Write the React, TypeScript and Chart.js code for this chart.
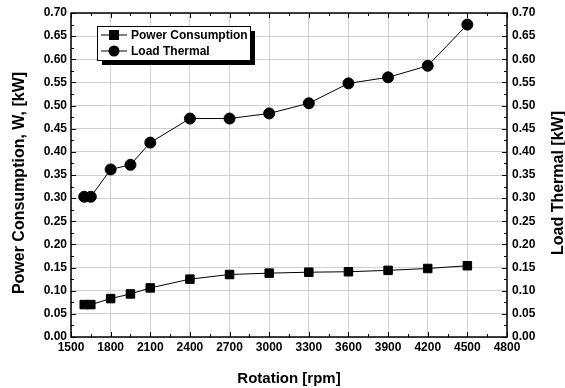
import React, { useEffect, useRef } from "react";
import { Chart, registerables } from "chart.js";

Chart.register(...registerables);

const rotation = [1600, 1650, 1800, 1950, 2100, 2400, 2700, 3000, 3300, 3600, 3900, 4200, 4500];
const powerConsumption = [0.07, 0.07, 0.083, 0.093, 0.106, 0.125, 0.135, 0.138, 0.14, 0.141, 0.144, 0.148, 0.154];
const loadThermal = [0.303, 0.303, 0.362, 0.372, 0.42, 0.472, 0.472, 0.483, 0.505, 0.548, 0.561, 0.586, 0.675];
const xTicks = { min: 1500, max: 4800, step: 300 };
const yTicks = { min: 0, max: 0.7, step: 0.05 };
const leftTitle = "Power Consumption, W, [kW]";
const rightTitle = "Load Thermal [kW]";

const FONT = "'Liberation Sans', Arial, sans-serif";

const framePlugin = {
  id: "frame",
  afterDraw(chart: any) {
    const { ctx, chartArea: a, scales } = chart;
    const xs = scales.x;
    const ys = scales.y;
    ctx.save();
    ctx.strokeStyle = "#000";
    ctx.lineWidth = 1;
    const tick = (x1: number, y1: number, x2: number, y2: number) => {
      ctx.beginPath();
      ctx.moveTo(x1, y1);
      ctx.lineTo(x2, y2);
      ctx.stroke();
    };
    const nx = Math.round((xTicks.max - xTicks.min) / (xTicks.step / 2));
    for (let i = 0; i <= nx; i++) {
      const v = xTicks.min + (i * xTicks.step) / 2;
      const len = i % 2 === 0 ? 5 : 3;
      const px = Math.round(xs.getPixelForValue(v)) + 0.5;
      tick(px, a.bottom, px, a.bottom - len);
      tick(px, a.top, px, a.top + len);
    }
    const ny = Math.round((yTicks.max - yTicks.min) / (yTicks.step / 2));
    for (let i = 0; i <= ny; i++) {
      const v = yTicks.min + (i * yTicks.step) / 2;
      const len = i % 2 === 0 ? 5 : 3;
      const py = Math.round(ys.getPixelForValue(v)) + 0.5;
      tick(a.left, py, a.left + len, py);
      tick(a.right, py, a.right - len, py);
    }
    ctx.lineWidth = 1.5;
    ctx.strokeRect(a.left, a.top, a.right - a.left, a.bottom - a.top);

    // vertical axis titles (both read bottom-to-top)
    ctx.fillStyle = "#000";
    ctx.font = `bold 16px ${FONT}`;
    ctx.textAlign = "center";
    ctx.textBaseline = "middle";
    const cy = (a.top + a.bottom) / 2 + 8;
    const drawV = (text: string, x: number) => {
      ctx.save();
      ctx.translate(x, cy);
      ctx.rotate(-Math.PI / 2);
      ctx.fillText(text, 0, 0);
      ctx.restore();
    };
    drawV(leftTitle, 20);
    drawV(rightTitle, chart.width - 6);
    ctx.restore();
  },
};

const legendPlugin = {
  id: "customLegend",
  afterDraw(chart: any) {
    const { ctx, chartArea: a } = chart;
    const bx = a.left + 26;
    const by = a.top + 13;
    const bw = 153;
    const bh = 34;
    ctx.save();
    ctx.fillStyle = "#000";
    ctx.fillRect(bx + 5, by + 5, bw, bh);
    ctx.fillStyle = "#fff";
    ctx.fillRect(bx, by, bw, bh);
    ctx.strokeStyle = "#000";
    ctx.lineWidth = 1;
    ctx.strokeRect(bx + 0.5, by + 0.5, bw, bh);
    ctx.font = `bold 12px ${FONT}`;
    ctx.textBaseline = "middle";
    chart.data.datasets.forEach((ds: any, i: number) => {
      const cy = by + 9 + i * 16;
      ctx.beginPath();
      ctx.moveTo(bx + 4, cy);
      ctx.lineTo(bx + 30, cy);
      ctx.lineWidth = 1;
      ctx.strokeStyle = "#000";
      ctx.stroke();
      ctx.fillStyle = "#000";
      const cx = bx + 17;
      if (ds.pointStyle === "rect") {
        ctx.fillRect(cx - 5, cy - 5, 10, 10);
      } else {
        ctx.beginPath();
        ctx.arc(cx, cy, 5.5, 0, Math.PI * 2);
        ctx.fill();
      }
      ctx.fillText(ds.label, bx + 34, cy + 0.5);
    });
    ctx.restore();
  },
};

export default function App() {
  const ref = useRef<HTMLCanvasElement>(null);
  useEffect(() => {
    document.body.style.margin = "0";
    const tickFont = { family: FONT, size: 12, weight: "bold" as const };
    const titleFont = { family: FONT, size: 15, weight: "bold" as const };
    const chart = new Chart(ref.current!, {
      type: "line",
      data: {
        datasets: [
          {
            label: "Power Consumption",
            data: rotation.map((x, i) => ({ x, y: powerConsumption[i] })),
            borderColor: "#000",
            backgroundColor: "#000",
            borderWidth: 1,
            pointStyle: "rect",
            pointRadius: 6,
            pointHoverRadius: 6,
            yAxisID: "y",
          },
          {
            label: "Load Thermal",
            data: rotation.map((x, i) => ({ x, y: loadThermal[i] })),
            borderColor: "#000",
            backgroundColor: "#000",
            borderWidth: 1,
            pointStyle: "circle",
            pointRadius: 5.5,
            pointHoverRadius: 5.5,
            yAxisID: "y2",
          },
        ],
      },
      options: {
        animation: false,
        responsive: false,
        maintainAspectRatio: false,
        layout: { padding: { top: 13, left: 0, right: 0, bottom: 0 } },
        plugins: { legend: { display: false }, tooltip: { enabled: false } },
        scales: {
          x: {
            type: "linear",
            position: "bottom",
            min: xTicks.min,
            max: xTicks.max,
            ticks: { stepSize: xTicks.step, font: tickFont, color: "#000", padding: 3, maxRotation: 0, callback: (v: any) => String(v) },
            grid: { color: "#d0d0d0", drawTicks: false, lineWidth: 1 },
            border: { display: false },
            title: { display: true, text: "Rotation [rpm]", font: titleFont, color: "#000", padding: { top: 9, bottom: 0 } },
            afterFit: (s: any) => { s.height = 51; },
          },
          y: {
            type: "linear",
            position: "left",
            min: yTicks.min,
            max: yTicks.max,
            ticks: { stepSize: yTicks.step, font: tickFont, color: "#000", padding: 4, callback: (v: any) => Number(v).toFixed(2) },
            grid: { color: "#d0d0d0", drawTicks: false, lineWidth: 1 },
            border: { display: false },
            title: { display: false },
            afterFit: (s: any) => { s.width = 71; },
          },
          y2: {
            type: "linear",
            position: "right",
            min: yTicks.min,
            max: yTicks.max,
            ticks: { stepSize: yTicks.step, font: tickFont, color: "#000", padding: 5, callback: (v: any) => Number(v).toFixed(2) },
            grid: { display: false, drawTicks: false },
            border: { display: false },
            title: { display: false },
            afterFit: (s: any) => { s.width = 58; },
          },
        },
      },
      plugins: [framePlugin, legendPlugin],
    });
    return () => chart.destroy();
  }, []);
  return (
    <div style={{ width: 565, height: 388 }}>
      <canvas ref={ref} width={565} height={388} style={{ width: 565, height: 388 }} />
    </div>
  );
}
